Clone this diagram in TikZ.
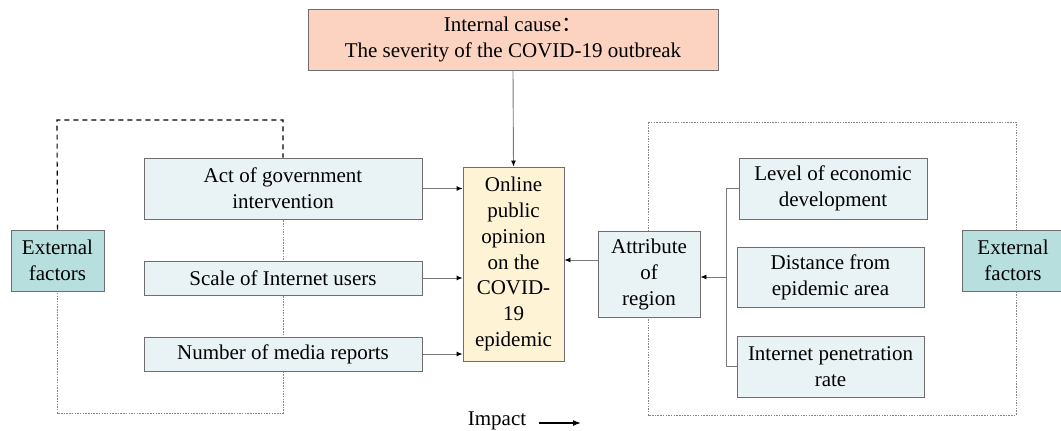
\documentclass[tikz,border=0pt]{standalone}
\usepackage{fontspec}
\setmainfont{LiberationSerif}[Extension=.ttf, UprightFont=*-Regular, BoldFont=*-Bold]
\newfontfamily\cjk{Noto Sans CJK SC}
\usetikzlibrary{arrows.meta}
\definecolor{salmon}{HTML}{FBD3C0}
\definecolor{cream}{HTML}{FFF3D6}
\definecolor{paleblue}{HTML}{E9F3F6}
\definecolor{teal}{HTML}{B6DFDD}
\definecolor{bordergray}{HTML}{6E6E6E}
\definecolor{linegray}{HTML}{7A7A7A}
\definecolor{dotgray}{HTML}{858585}
\tikzset{
  box/.style={draw=bordergray, line width=0.9pt, align=center, inner sep=2pt,
    font=\fontsize{21}{26}\selectfont},
  bluebox/.style={box, fill=paleblue},
  arr/.style={draw=linegray, line width=0.9pt, -{Latex[length=6pt,width=5pt,color=black]}},
  link/.style={draw=linegray, line width=0.9pt},
  dotline/.style={draw=dotgray, line width=0.9pt, dash pattern=on 1.5pt off 1.2pt},
  dashline/.style={draw=black, line width=1.1pt, dash pattern=on 5pt off 4pt}
}
\begin{document}
\begin{tikzpicture}[x=1pt,y=-1pt]
\useasboundingbox (0,0) rectangle (1061,431);
% frames
\draw[dotline] (57,120) rectangle (283,413);
\draw[dotline] (648,122) rectangle (1016,415);
% nodes
\node[box, fill=salmon, minimum width=410, minimum height=61] (top) at (513,39.5)
  {Internal cause{\cjk ：}\\The severity of the COVID-19 outbreak};
\node[box, fill=cream, minimum width=101, minimum height=194,
  font=\fontsize{21}{25.7}\selectfont] (center) at (513.5,264)
  {Online\\public\\opinion\\on the\\COVID-\\19\\epidemic};
\node[bluebox, minimum width=278, minimum height=61] (act) at (283,188.5)
  {Act of government\\intervention};
\node[bluebox, minimum width=278, minimum height=34] (scale) at (283,278)
  {Scale of Internet users};
\node[bluebox, minimum width=278, minimum height=34] (num) at (283,354)
  {Number of media reports};
\node[box, fill=teal, minimum width=93, minimum height=61] (extL) at (57.5,260.5)
  {External\\factors};
\node[bluebox, minimum width=102, minimum height=86] (attr) at (649,274)
  {Attribute\\of\\region};
\node[bluebox, minimum width=188, minimum height=61] (level) at (833,188.5)
  {Level of economic\\development};
\node[bluebox, minimum width=187, minimum height=60] (dist) at (830.5,277)
  {Distance from\\epidemic area};
\node[bluebox, minimum width=187, minimum height=61] (inet) at (830.5,366.5)
  {Internet penetration\\rate};
\node[box, fill=teal, minimum width=102, minimum height=61] (extR) at (1013,260.5)
  {External\\factors};
% dashed upper loop
\coordinate (L1) at (57,120);
\coordinate (L2) at (283,120);
\draw[white, line width=1.6pt] (extL.north) -- (L1) -- (L2) -- (L2 |- act.north);
\draw[dashline] (extL.north) -- (L1) -- (L2) -- (L2 |- act.north);
% connectors
\draw[arr] (top.south) -- (center.north);
\draw[arr] (act.east) -- (act.east -| center.west);
\draw[arr] (scale.east) -- (scale.east -| center.west);
\draw[arr] (num.east) -- (num.east -| center.west);
\coordinate (ca) at (center.east |- 0,260);
\draw[arr] (attr.west |- ca) -- (ca);
\coordinate (bx) at (726,277);
\draw[link] (level.west) -| (bx |- inet.west) -- (inet.west);
\draw[arr] (bx) -- (bx -| attr.east);
% legend
\node[font=\fontsize{21}{26}\selectfont] (imp) at (497,421) {Impact};
\coordinate (ie) at (581,423);
\draw[line width=1.5pt, -{Latex[length=8pt,width=6pt]}] (imp.east |- ie) ++(9,0) -- (ie);
\end{tikzpicture}
\end{document}
